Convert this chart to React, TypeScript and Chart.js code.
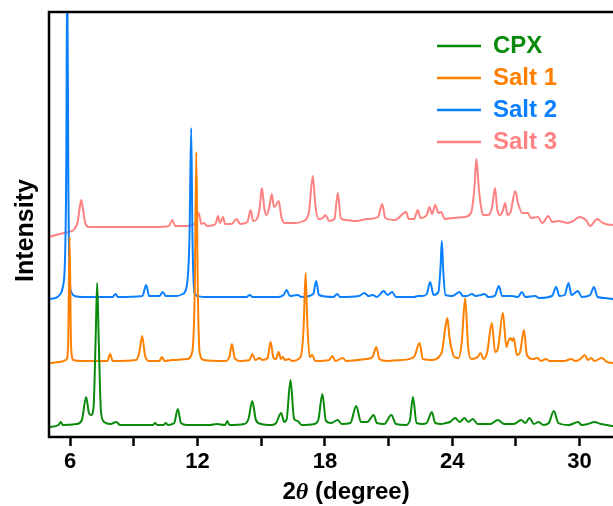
import React, { useEffect, useRef } from 'react';
import { Chart, registerables } from 'chart.js';

Chart.register(...registerables);

// ---- data (2θ in degrees, intensity in arbitrary stacked units) ----
const seriesNames = ['CPX', 'Salt 1', 'Salt 2', 'Salt 3'];
const seriesColors = ['#0a8a0a', '#ff8000', '#0a80ff', '#ff8282'];

const cpx: [number, number][] = [
  [5.0, 10], [5.45, 12], [5.55, 15], [5.65, 12], [6.3, 13], [6.55, 17], [6.75, 40], [6.88, 24], [6.98, 22],
  [7.1, 30], [7.2, 100], [7.27, 154], [7.34, 100], [7.45, 25], [7.6, 15], [7.9, 13], [8.17, 15], [8.35, 12],
  [9.2, 12], [9.9, 12], [10.0, 14], [10.1, 12], [10.4, 12], [10.5, 14], [10.6, 12], [10.9, 14], [11.07, 28],
  [11.22, 14], [11.5, 12], [12.6, 12], [12.9, 13], [13.3, 12], [13.4, 16], [13.5, 12], [14.2, 13], [14.4, 18],
  [14.58, 36], [14.75, 17], [15.0, 13], [15.5, 12], [15.7, 14], [15.94, 24], [16.08, 15], [16.2, 18], [16.38, 57],
  [16.55, 18], [16.72, 16], [16.9, 12], [17.5, 13], [17.7, 18], [17.88, 43], [18.05, 16], [18.3, 14], [18.6, 17],
  [18.8, 13], [19.2, 14], [19.48, 31], [19.7, 15], [20.0, 15], [20.3, 22], [20.45, 14], [20.8, 13], [21.13, 22],
  [21.35, 13], [21.8, 12], [22.0, 16], [22.15, 40], [22.32, 14], [22.6, 13], [22.8, 14], [23.04, 25], [23.2, 14],
  [23.5, 13], [23.7, 14], [23.9, 15], [24.14, 19], [24.35, 15], [24.58, 19], [24.75, 15], [24.97, 18], [25.2, 13],
  [25.8, 13], [26.15, 17], [26.45, 13], [26.9, 13], [27.25, 17], [27.45, 14], [27.64, 19], [27.85, 13], [28.07, 15],
  [28.3, 12], [28.55, 14], [28.79, 26], [29.0, 14], [29.5, 12], [29.93, 15], [30.1, 12], [30.4, 13], [30.7, 15],
  [31.0, 13], [31.3, 12], [31.6, 11], [33.0, 11],
];

const salt1: [number, number][] = [
  [5.0, 74], [5.5, 75], [5.8, 77], [5.9, 90], [5.97, 200], [6.04, 90], [6.15, 77], [6.5, 76], [7.75, 76], [7.88, 83],
  [8.0, 76], [9.1, 77], [9.25, 84], [9.39, 101], [9.52, 82], [9.7, 76], [10.2, 76], [10.32, 80], [10.45, 76],
  [10.8, 77], [11.5, 78], [11.75, 85], [11.87, 150], [11.94, 285], [12.01, 150], [12.1, 84], [12.3, 77], [13.3, 76],
  [13.5, 80], [13.62, 93], [13.75, 79], [14.0, 76], [14.45, 77], [14.58, 83], [14.72, 77], [14.92, 79], [15.05, 77],
  [15.3, 79], [15.44, 95], [15.58, 79], [15.7, 78], [15.82, 85], [15.93, 78], [16.02, 80], [16.12, 77], [16.3, 78],
  [16.45, 76], [16.85, 80], [17.0, 110], [17.09, 164], [17.18, 110], [17.28, 80], [17.4, 82], [17.55, 76],
  [18.2, 77], [18.35, 81], [18.5, 76], [18.85, 79], [19.0, 76], [19.95, 78], [20.25, 80], [20.42, 90], [20.57, 78],
  [20.9, 76], [21.6, 77], [22.2, 80], [22.46, 94], [22.62, 78], [23.0, 77], [23.5, 84], [23.68, 110], [23.77, 119],
  [23.87, 100], [23.95, 90], [24.1, 80], [24.3, 79], [24.45, 95], [24.61, 139], [24.75, 90], [24.9, 78], [25.2, 80],
  [25.33, 84], [25.48, 78], [25.65, 85], [25.87, 114], [26.02, 85], [26.15, 88], [26.39, 124], [26.55, 90],
  [26.65, 96], [26.75, 99], [26.83, 96], [26.9, 99], [27.05, 82], [27.2, 85], [27.38, 107], [27.52, 82], [27.8, 78],
  [28.0, 79], [28.2, 76], [28.4, 78], [28.6, 76], [29.3, 76], [29.6, 78], [29.8, 76], [30.05, 78], [30.24, 82],
  [30.4, 77], [30.55, 79], [30.7, 76], [31.05, 79], [31.3, 75], [31.6, 74], [33.0, 74],
];

const salt2: [number, number][] = [
  [5.0, 138], [5.3, 139], [5.5, 142], [5.65, 150], [5.75, 175], [5.81, 260], [5.86, 470], [5.91, 260], [5.97, 160],
  [6.05, 145], [6.2, 141], [6.6, 140], [8.0, 140], [8.13, 143], [8.25, 140], [9.4, 141], [9.58, 152], [9.72, 141],
  [10.2, 141], [10.36, 145], [10.5, 141], [11.0, 141], [11.3, 143], [11.5, 152], [11.62, 200], [11.7, 309],
  [11.76, 200], [11.85, 145], [12.0, 141], [12.3, 140], [14.3, 140], [14.46, 142], [14.6, 140], [15.8, 140],
  [16.05, 142], [16.2, 147], [16.35, 141], [16.72, 142], [16.9, 140], [17.45, 143], [17.59, 156], [17.72, 142],
  [18.4, 140], [18.58, 143], [18.72, 140], [19.6, 141], [19.87, 144], [20.05, 141], [20.26, 142], [20.45, 140],
  [20.77, 146], [20.95, 142], [21.17, 145], [21.35, 140], [22.2, 140], [22.4, 141], [22.6, 141], [22.8, 143],
  [22.96, 155], [23.12, 142], [23.35, 145], [23.45, 170], [23.51, 196], [23.58, 165], [23.68, 142], [24.0, 141],
  [24.35, 145], [24.5, 141], [24.7, 141], [24.93, 143], [25.1, 141], [25.35, 142], [25.53, 143], [25.7, 140],
  [26.0, 141], [26.2, 151], [26.35, 141], [26.81, 141], [27.1, 140], [27.28, 145], [27.45, 140], [27.91, 141],
  [28.1, 139], [28.7, 141], [28.9, 150], [29.05, 141], [29.3, 142], [29.48, 154], [29.62, 142], [29.93, 146],
  [30.1, 140], [30.5, 142], [30.68, 150], [30.85, 140], [31.2, 139], [31.6, 138], [33.0, 138],
];

const salt3: [number, number][] = [
  [5.0, 200], [5.5, 203], [5.9, 205], [6.2, 208], [6.35, 215], [6.45, 230], [6.52, 237], [6.6, 228], [6.72, 213],
  [6.9, 210], [8.0, 210], [9.0, 210], [10.0, 210], [10.65, 211], [10.81, 217], [10.95, 211], [11.5, 211],
  [11.9, 214], [12.05, 224], [12.18, 213], [12.3, 214], [12.45, 211], [12.85, 213], [12.96, 221], [13.06, 214],
  [13.2, 220], [13.3, 213], [13.6, 213], [13.85, 218], [14.0, 213], [14.35, 215], [14.5, 227], [14.62, 216],
  [14.8, 218], [14.93, 230], [15.03, 249], [15.15, 228], [15.25, 222], [15.38, 230], [15.5, 243], [15.6, 230],
  [15.7, 232], [15.82, 236], [15.95, 220], [16.1, 214], [16.6, 214], [17.0, 216], [17.25, 225], [17.43, 261],
  [17.55, 232], [17.7, 218], [17.9, 219], [18.03, 222], [18.2, 216], [18.45, 218], [18.61, 244], [18.75, 219],
  [19.0, 217], [19.48, 216], [20.0, 218], [20.5, 220], [20.7, 233], [20.85, 219], [21.3, 217], [21.83, 225],
  [21.95, 218], [22.2, 218], [22.38, 227], [22.5, 219], [22.8, 222], [22.93, 230], [23.05, 223], [23.2, 232],
  [23.35, 224], [23.48, 225], [23.65, 218], [24.0, 219], [24.58, 220], [24.9, 225], [25.05, 250], [25.14, 278],
  [25.25, 250], [25.33, 234], [25.45, 222], [25.7, 222], [25.88, 230], [26.02, 249], [26.12, 228], [26.25, 222],
  [26.38, 226], [26.5, 234], [26.6, 222], [26.75, 225], [26.97, 246], [27.1, 234], [27.3, 224], [27.57, 224],
  [27.7, 219], [28.04, 220], [28.25, 214], [28.54, 221], [28.7, 215], [29.0, 216], [29.45, 214], [29.7, 216],
  [30.0, 220], [30.3, 217], [30.5, 211], [30.83, 218], [31.1, 214], [31.55, 212], [33.0, 212],
];

const seriesData = [cpx, salt1, salt2, salt3];

const xMin = 5;
const xMax = 33;
const xTickStep = 3;
const xLabelStep = 6;
const yMin = 0;
const yMax = 425;
const xTitleParts = ['2', 'θ', ' (degree)'];
const yTitle = 'Intensity';

const FONT = "'Liberation Sans', Arial, sans-serif";
const LEGEND_LEFT = 429;
const LEGEND_TOP = 26;

const decorPlugin = {
  id: 'decor',
  afterLayout(chart: any) {
    const lg = chart.legend;
    if (lg) {
      lg.left = LEGEND_LEFT;
      lg.right = LEGEND_LEFT + lg.width;
      lg.top = LEGEND_TOP;
      lg.bottom = chart.chartArea.bottom;
    }
  },
  afterDraw(chart: any) {
    const { ctx, chartArea } = chart;
    const { left, right, top, bottom } = chartArea;
    ctx.save();
    // frame
    ctx.strokeStyle = '#000';
    ctx.lineWidth = 2.5;
    ctx.lineCap = 'square';
    ctx.beginPath();
    ctx.moveTo(right, top);
    ctx.lineTo(left, top);
    ctx.lineTo(left, bottom);
    ctx.lineTo(right, bottom);
    ctx.lineTo(right, top);
    ctx.stroke();

    // x title with italic theta
    ctx.fillStyle = '#000';
    ctx.textBaseline = 'alphabetic';
    ctx.textAlign = 'left';
    const fonts = [
      `bold 24px ${FONT}`,
      `italic bold 24px 'Liberation Serif', serif`,
      `bold 24px ${FONT}`,
    ];
    const widths = xTitleParts.map((t, i) => {
      ctx.font = fonts[i];
      return ctx.measureText(t).width;
    });
    const total = widths.reduce((a, b) => a + b, 0);
    let x = (left + right) / 2 - total / 2;
    const baseY = bottom + 62;
    xTitleParts.forEach((t, i) => {
      ctx.font = fonts[i];
      ctx.fillText(t, x, baseY);
      x += widths[i];
    });

    // y title
    ctx.translate(33, (top + bottom) / 2 + 6);
    ctx.rotate(-Math.PI / 2);
    ctx.textAlign = 'center';
    ctx.font = `bold 25px ${FONT}`;
    ctx.fillText(yTitle, 0, 0);
    ctx.restore();
  },
};

export default function App() {
  const canvasRef = useRef<HTMLCanvasElement | null>(null);

  useEffect(() => {
    if (!canvasRef.current) return;
    const chart = new Chart(canvasRef.current, {
      type: 'line',
      data: {
        datasets: seriesData.map((pts, i) => ({
          label: seriesNames[i],
          data: pts.map(([x, y]) => ({ x, y })),
          borderColor: seriesColors[i],
          backgroundColor: seriesColors[i],
          borderWidth: 2,
          pointRadius: 0,
          fill: false,
          cubicInterpolationMode: 'monotone' as const,
        })),
      },
      options: {
        animation: false,
        responsive: false,
        events: [],
        layout: { padding: { left: 49, top: 12, right: 16.8, bottom: 27.6 } },
        plugins: {
          tooltip: { enabled: false },
          legend: {
            position: 'chartArea' as any,
            align: 'start',
            labels: {
              boxWidth: 44,
              boxHeight: 2.5,
              padding: 8,
              font: { family: FONT, size: 24, weight: 'bold' },
              generateLabels: (c: any) =>
                c.data.datasets.map((ds: any, i: number) => ({
                  text: ds.label,
                  fillStyle: ds.borderColor,
                  strokeStyle: ds.borderColor,
                  lineWidth: 0,
                  fontColor: ds.borderColor,
                  hidden: false,
                  datasetIndex: i,
                })),
            },
          },
        },
        scales: {
          x: {
            type: 'linear',
            min: xMin,
            max: xMax,
            border: { display: false },
            grid: {
              display: true,
              drawOnChartArea: false,
              drawTicks: true,
              tickLength: 9,
              tickWidth: 2.5,
              tickColor: '#000',
            },
            ticks: {
              stepSize: xTickStep,
              includeBounds: false,
              autoSkip: false,
              maxRotation: 0,
              padding: 3,
              color: '#000',
              font: { family: FONT, size: 22, weight: 'bold' },
              callback: (v: any) => (Number(v) % xLabelStep === 0 ? String(v) : ''),
            },
          },
          y: {
            display: false,
            min: yMin,
            max: yMax,
          },
        },
      },
      plugins: [decorPlugin],
    });
    return () => chart.destroy();
  }, []);

  return (
    <div style={{ position: 'fixed', left: 0, top: 0, width: 613, height: 506, overflow: 'hidden', background: '#fff' }}>
      <canvas ref={canvasRef} width={660} height={506} style={{ display: 'block' }} />
    </div>
  );
}
